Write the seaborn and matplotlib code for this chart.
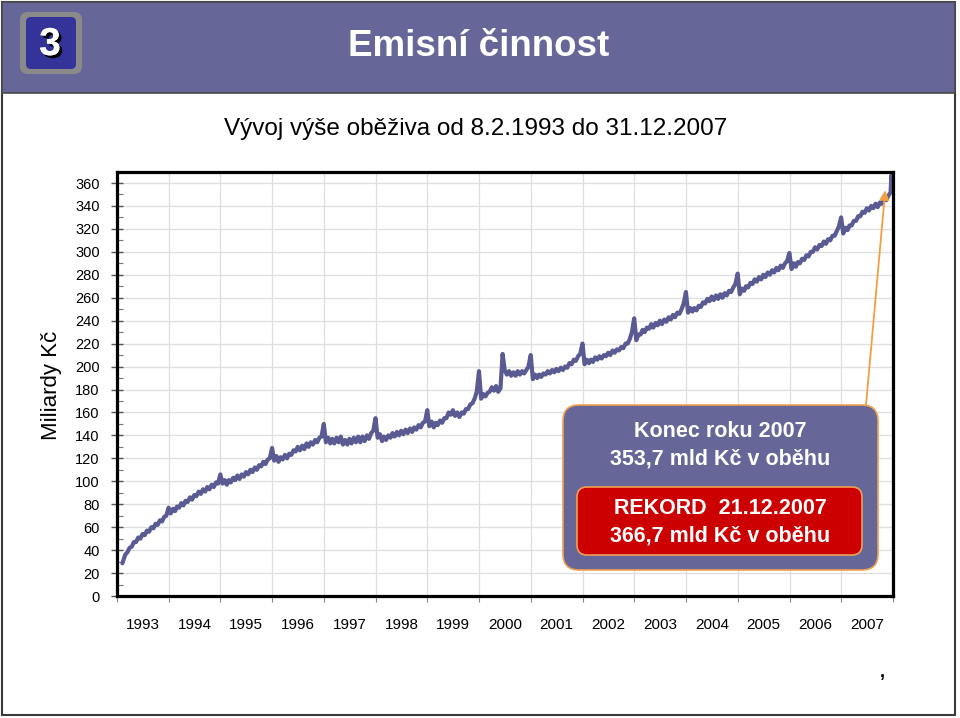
import calendar
import datetime
import matplotlib
matplotlib.use("Agg")
import matplotlib.pyplot as plt
import matplotlib.patheffects as pe
import seaborn as sns
import pandas as pd
from matplotlib.patches import FancyBboxPatch, Rectangle
from matplotlib.ticker import MultipleLocator, FixedLocator, NullFormatter

# ---------------- data (mld Kč, mid-month / month-end pairs) ----------------
v1993 = [28.5, 36, 38, 42, 43, 47, 47, 51, 50, 54, 53, 57, 56, 60, 59, 63, 62, 66, 65, 69, 70, 77]  # from Feb
v1994 = [72, 76, 74, 78, 77, 81, 79, 83, 82, 86, 84, 88, 87, 91, 89, 93, 91, 95, 93, 97, 95, 99, 98, 106]
v1995 = [98, 101, 97, 101, 99, 103, 101, 105, 102, 106, 104, 108, 106, 110, 108, 112, 110, 114, 113, 117, 115, 119, 120, 129]
v1996 = [118, 122, 117, 121, 119, 123, 120, 124, 123, 127, 126, 130, 127, 131, 128, 133, 130, 134, 132, 136, 134, 138, 139, 150]
v1997 = [134, 138, 133, 137, 133, 138, 134, 139, 132, 136, 132, 137, 133, 138, 134, 139, 134, 139, 135, 140, 137, 142, 144, 155]
v1998 = [138, 141, 135, 139, 136, 140, 138, 142, 139, 143, 140, 144, 141, 145, 142, 146, 143, 147, 145, 149, 147, 151, 152, 162]
v1999 = [148, 152, 147, 151, 149, 153, 151, 155, 155, 160, 158, 162, 157, 160, 156, 160, 159, 163, 163, 167, 168, 172, 178, 196]
v2000 = [172, 176, 174, 177, 178, 182, 179, 183, 178, 181, 211, 197, 193, 196, 192, 195, 192, 196, 193, 196, 194, 197, 200, 210]
v2001 = [189, 193, 190, 193, 191, 194, 193, 196, 194, 197, 195, 198, 196, 199, 197, 200, 199, 203, 202, 206, 205, 209, 211, 220]
v2002 = [202, 206, 203, 206, 204, 208, 206, 209, 207, 210, 209, 212, 210, 214, 212, 215, 214, 217, 216, 220, 220, 224, 230, 242]
v2003 = [223, 228, 228, 232, 230, 234, 233, 237, 234, 238, 236, 240, 237, 241, 239, 243, 241, 245, 243, 247, 246, 250, 255, 265]
v2004 = [247, 251, 248, 251, 249, 253, 252, 256, 255, 259, 257, 261, 258, 262, 259, 263, 260, 264, 262, 266, 265, 269, 272, 281]
v2005 = [263, 268, 266, 270, 269, 273, 272, 276, 274, 278, 276, 280, 278, 282, 280, 284, 282, 286, 284, 288, 286, 290, 292, 299]
v2006 = [285, 290, 287, 291, 290, 294, 293, 297, 296, 300, 300, 304, 302, 306, 305, 309, 307, 311, 310, 314, 314, 318, 322, 330]
v2007 = [316, 321, 319, 323, 323, 327, 327, 331, 331, 335, 334, 338, 336, 340, 338, 342, 339, 343, 342, 346, 345, 349, 352, 366.7, 353.7]

year_labels = ["1993", "1994", "1995", "1996", "1997", "1998", "1999", "2000",
               "2001", "2002", "2003", "2004", "2005", "2006", "2007"]

title = "Emisní činnost"
subtitle = "Vývoj výše oběživa od 8.2.1993 do 31.12.2007"
ylabel = "Miliardy Kč"
box1 = "Konec roku 2007\n353,7 mld Kč v oběhu"
box2 = "REKORD  21.12.2007\n366,7 mld Kč v oběhu"

# ---------------- dates ----------------
def month_dates(year, start_month=1):
    out = []
    for m in range(start_month, 13):
        last = calendar.monthrange(year, m)[1]
        out += [datetime.date(year, m, 15), datetime.date(year, m, last)]
    return out

values = {1993: v1993, 1994: v1994, 1995: v1995, 1996: v1996, 1997: v1997,
          1998: v1998, 1999: v1999, 2000: v2000, 2001: v2001, 2002: v2002,
          2003: v2003, 2004: v2004, 2005: v2005, 2006: v2006, 2007: v2007}

dates, vals = [], []
for y, v in values.items():
    if y == 1993:
        d = month_dates(1993, 2)
        d[0] = datetime.date(1993, 2, 8)
    elif y == 2007:
        d = month_dates(2007)[:-1] + [datetime.date(2007, 12, 21), datetime.date(2007, 12, 31)]
    else:
        d = month_dates(y)
    dates += d
    vals += v

def dec_year(d):
    ndays = 366 if calendar.isleap(d.year) else 365
    return d.year + (d.timetuple().tm_yday - 1) / ndays

df = pd.DataFrame({"t": [dec_year(d) for d in dates], "v": vals})

# ---------------- figure ----------------
sns.set_theme(style="white")
plt.rcParams["font.family"] = ["Liberation Sans", "DejaVu Sans"]

W, H = 960, 718
fig = plt.figure(figsize=(W / 100, H / 100), dpi=100)
fig.patch.set_facecolor("white")

ax = fig.add_axes([117 / W, (H - 596) / H, 776 / W, 424 / H], zorder=1)
sns.lineplot(data=df, x="t", y="v", ax=ax, color="#5B5B94", lw=3.0, sort=False)
ax.set_xlim(1993, 2008)
ax.set_ylim(0, 369.6)
ax.set_xlabel("")
ax.set_ylabel("")

ax.yaxis.set_major_locator(MultipleLocator(20))
ax.yaxis.set_minor_locator(MultipleLocator(10))
ax.tick_params(axis="y", which="major", direction="inout", length=8, width=1,
               color="#555555", labelsize=10.5, pad=8.5, labelcolor="black", left=True)
ax.tick_params(axis="y", which="minor", direction="in", length=4, width=0.8,
               color="#777777", left=True)

ax.xaxis.set_major_locator(FixedLocator(list(range(1993, 2009))))
ax.xaxis.set_major_formatter(NullFormatter())
ax.xaxis.set_minor_locator(FixedLocator([int(s) + 0.5 for s in year_labels]))
ax.set_xticklabels(year_labels, minor=True)
ax.tick_params(axis="x", which="major", direction="out", length=4, width=0.8,
               color="#888888", bottom=True)
ax.tick_params(axis="x", which="minor", length=0, labelsize=11, pad=15.5,
               labelcolor="black")

ax.grid(True, which="major", color="#DEDEDE", lw=0.9)
for s in ax.spines.values():
    s.set_visible(True)
    s.set_color("black")
    s.set_linewidth(2.3)

# ---------------- overlay (pixel coordinates) ----------------
ov = fig.add_axes([0, 0, 1, 1], zorder=2)
ov.set_xlim(0, W)
ov.set_ylim(H, 0)
ov.axis("off")
ov.patch.set_alpha(0)

# slide frame and header
ov.add_patch(Rectangle((2, 2), 953, 713, facecolor="none", edgecolor="#3a3a3a", lw=1.5))
ov.add_patch(Rectangle((2, 2), 953, 91, facecolor="#666699", edgecolor="#4a4a4a", lw=1.2))
ov.add_patch(FancyBboxPatch((20, 12), 62, 62, boxstyle="round,pad=0,rounding_size=8",
                            facecolor="#8a8a8a", edgecolor="none"))
ov.add_patch(FancyBboxPatch((26, 17), 50, 52, boxstyle="round,pad=0,rounding_size=5",
                            facecolor="#333399", edgecolor="none"))
ov.text(50, 45, "3", color="white", fontsize=28, fontweight="bold", ha="center", va="center",
        path_effects=[pe.withSimplePatchShadow(offset=(2, -2), shadow_rgbFace="black", alpha=1.0),
                      pe.Normal()])
ov.text(479, 47, title, color="white", fontsize=26.5, fontweight="bold", ha="center", va="center")

ov.text(476, 129, subtitle, color="black", fontsize=17.5, ha="center", va="center")
ov.text(52, 385, ylabel, color="black", fontsize=16, ha="center", va="center", rotation=90)
ov.text(882, 672, ",", color="black", fontsize=13, fontweight="bold", ha="center", va="center")

# annotation boxes
ov.add_patch(FancyBboxPatch((563, 405), 315, 165, boxstyle="round,pad=0,rounding_size=16",
                            facecolor="#666699", edgecolor="#F0A050", lw=1.2))
ov.add_patch(FancyBboxPatch((577, 487), 285, 68, boxstyle="round,pad=0,rounding_size=10",
                            facecolor="#CC0000", edgecolor="#F0A050", lw=1.2))
ov.text(720, 445, box1, color="white", fontsize=15.5, fontweight="bold",
        ha="center", va="center", linespacing=1.42)
ov.text(720, 522, box2, color="white", fontsize=15.5, fontweight="bold",
        ha="center", va="center", linespacing=1.42)

# arrow from box to end-of-2007 value
ov.annotate("", xy=(2007.85, 353.7), xycoords=ax.transData,
            xytext=(866, 405), textcoords="data",
            arrowprops=dict(arrowstyle="-|>", color="#F0A040", lw=1.3, mutation_scale=14,
                            shrinkA=0, shrinkB=0))

fig.savefig("out.png", dpi=100, facecolor="white")
